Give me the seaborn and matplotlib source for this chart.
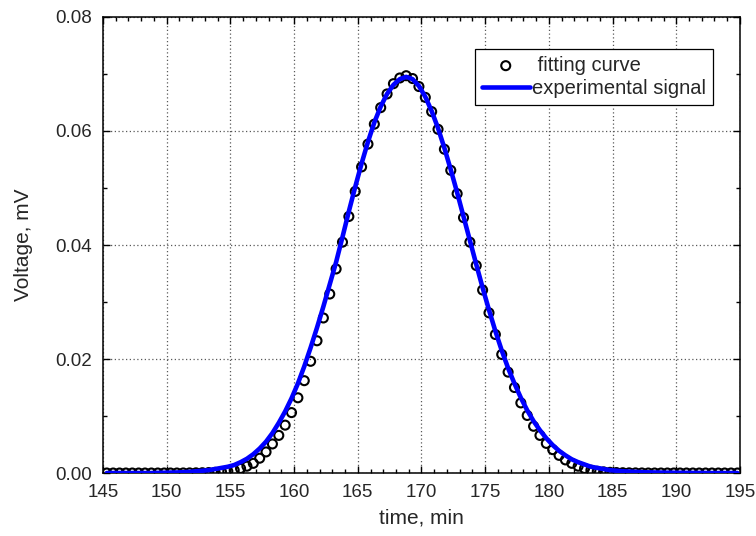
import matplotlib
matplotlib.use("Agg")
import pandas as pd
import seaborn as sns
from matplotlib import pyplot as plt
from matplotlib.ticker import MultipleLocator, FormatStrFormatter

# sampling times, min (step of half a minute)
time_min = [
    145.3, 145.8, 146.3, 146.8, 147.3, 147.8, 148.3, 148.8, 149.3, 149.8,
    150.3, 150.8, 151.3, 151.8, 152.3, 152.8, 153.3, 153.8, 154.3, 154.8,
    155.3, 155.8, 156.3, 156.8, 157.3, 157.8, 158.3, 158.8, 159.3, 159.8,
    160.3, 160.8, 161.3, 161.8, 162.3, 162.8, 163.3, 163.8, 164.3, 164.8,
    165.3, 165.8, 166.3, 166.8, 167.3, 167.8, 168.3, 168.8, 169.3, 169.8,
    170.3, 170.8, 171.3, 171.8, 172.3, 172.8, 173.3, 173.8, 174.3, 174.8,
    175.3, 175.8, 176.3, 176.8, 177.3, 177.8, 178.3, 178.8, 179.3, 179.8,
    180.3, 180.8, 181.3, 181.8, 182.3, 182.8, 183.3, 183.8, 184.3, 184.8,
    185.3, 185.8, 186.3, 186.8, 187.3, 187.8, 188.3, 188.8, 189.3, 189.8,
    190.3, 190.8, 191.3, 191.8, 192.3, 192.8, 193.3, 193.8, 194.3, 194.8,
]

# fitting curve, mV
fit_mv = [
    0.0, 0.0, 0.0, 0.0, 0.0, 0.0, 0.0, 0.0, 0.0, 0.0,
    0.0, 0.0, 0.00001, 0.00002, 0.00003, 0.00005, 0.00008, 0.00012, 0.0002, 0.0003,
    0.0005, 0.0008, 0.0012, 0.0017, 0.0026, 0.0037, 0.0051, 0.0066, 0.0084, 0.0106,
    0.0132, 0.0162, 0.0196, 0.0232, 0.0272, 0.0314, 0.0358, 0.0405, 0.0450, 0.0494,
    0.0537, 0.0577, 0.0612, 0.0641, 0.0665, 0.0683, 0.0693, 0.0697, 0.0692, 0.0678,
    0.0659, 0.0634, 0.0603, 0.0568, 0.0531, 0.0490, 0.0448, 0.0405, 0.0364, 0.0321,
    0.0281, 0.0243, 0.0208, 0.0177, 0.0150, 0.0123, 0.0101, 0.0082, 0.0066, 0.0052,
    0.0041, 0.0031, 0.0023, 0.0017, 0.0012, 0.0008, 0.0005, 0.0003, 0.0002, 0.00012,
    0.00008, 0.00005, 0.00003, 0.00002, 0.00001, 0.0, 0.0, 0.0, 0.0, 0.0,
    0.0, 0.0, 0.0, 0.0, 0.0, 0.0, 0.0, 0.0, 0.0, 0.0,
]

# experimental signal, mV
signal_mv = [
    0.0, 0.0, 0.0, 0.0, 0.0, 0.0, 0.0, 0.0, 0.00003, 0.00005,
    0.00008, 0.0001, 0.00015, 0.0002, 0.0003, 0.0004, 0.0005, 0.0007, 0.0009, 0.0011,
    0.0014, 0.0019, 0.0025, 0.0033, 0.0043, 0.0055, 0.0070, 0.0088, 0.0108, 0.0131,
    0.0157, 0.0187, 0.0220, 0.0255, 0.0292, 0.0331, 0.0370, 0.0414, 0.0459, 0.0502,
    0.0543, 0.0581, 0.0615, 0.0643, 0.0665, 0.0681, 0.0691, 0.0695, 0.0691, 0.0679,
    0.0660, 0.0635, 0.0605, 0.0570, 0.0532, 0.0492, 0.0450, 0.0408, 0.0366, 0.0325,
    0.0286, 0.0249, 0.0215, 0.0184, 0.0157, 0.0132, 0.0110, 0.0091, 0.0075, 0.0061,
    0.0049, 0.0039, 0.0031, 0.0024, 0.0019, 0.0015, 0.0011, 0.0009, 0.0007, 0.0005,
    0.0004, 0.0003, 0.00025, 0.0002, 0.00015, 0.00012, 0.0001, 0.00008, 0.00006, 0.00005,
    0.00004, 0.00003, 0.00002, 0.00002, 0.00001, 0.0, 0.0, 0.0, 0.0, 0.0,
]

df = pd.DataFrame({'time': time_min, 'fit': fit_mv, 'signal': signal_mv})

sns.set_style('ticks')
plt.rcParams['font.family'] = ['Liberation Sans', 'DejaVu Sans']

fig = plt.figure(figsize = (7.56, 5.36), dpi = 100)
ax = fig.add_axes([0.1362, 0.1175, 0.8426, 0.8508])

sns.scatterplot(
    df, x = 'time', y = 'fit', ax = ax,
    marker = 'o', s = 42, facecolor = 'none', edgecolor = 'black',
    linewidth = 1.5, label = ' fitting curve', zorder = 2
)
sns.lineplot(
    df, x = 'time', y = 'signal', ax = ax,
    color = '#0000ff', linewidth = 3.3, label = 'experimental signal', zorder = 3
)

ax.set_xlim(145, 195)
ax.set_ylim(0, 0.08)
ax.xaxis.set_major_locator(MultipleLocator(5))
ax.xaxis.set_minor_locator(MultipleLocator(1))
ax.yaxis.set_major_locator(MultipleLocator(0.02))
ax.yaxis.set_minor_locator(MultipleLocator(0.01))
ax.yaxis.set_major_formatter(FormatStrFormatter('%.2f'))

ax.grid(which = 'major', color = '0.35', linestyle = (0, (1, 2)), linewidth = 0.9)
ax.tick_params(which = 'both', direction = 'in', top = True, right = True,
               color = 'black', width = 1.0, labelsize = 13.5, pad = 8)
ax.tick_params(which = 'major', length = 5)
ax.tick_params(which = 'minor', length = 3)
for spine in ax.spines.values():
    spine.set_color('black')
    spine.set_linewidth(1.1)

ax.set_xlabel('time, min', fontsize = 15, labelpad = 5)
ax.set_ylabel('Voltage, mV', fontsize = 15, labelpad = 16)

leg = ax.legend(
    loc = 'upper right', bbox_to_anchor = (0.9576, 0.930), borderaxespad = 0,
    fontsize = 14.5, frameon = True, fancybox = False, framealpha = 1,
    edgecolor = 'black', handlelength = 2.4, handletextpad = 0.1,
    labelspacing = 0.2, borderpad = 0.35, scatterpoints = 1
)
leg.get_frame().set_linewidth(0.9)

plt.savefig('out.png', dpi = 100)
plt.close()
